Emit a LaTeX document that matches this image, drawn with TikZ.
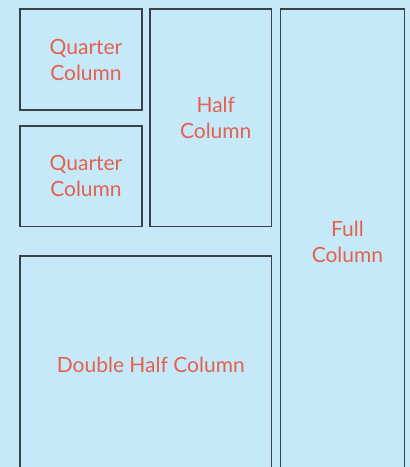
\documentclass[tikz,border=0pt]{standalone}
\usepackage{fontspec}
\setmainfont{Lato}
\definecolor{bgblue}{HTML}{C5E9F9}
\definecolor{txtred}{HTML}{E5604D}
\definecolor{edge}{HTML}{3C4147}
\begin{document}
\begin{tikzpicture}[x=1pt,y=1pt,
  box/.style={draw=edge, line width=1.3pt, inner sep=0pt, outer sep=0pt},
  lbl/.style={align=center, text=txtred, inner sep=0pt,
    font=\fontsize{21}{26}\selectfont}]
\fill[bgblue] (0,0) rectangle (410,467);
\useasboundingbox (0,0) rectangle (410,467);
\clip (0,0) rectangle (410,467);
\node[box, minimum width=122pt, minimum height=101pt] (q1) at (81,407.5) {};
\node[box, minimum width=122pt, minimum height=100.5pt] (q2) at (81,290.75) {};
\node[box, minimum width=121.5pt, minimum height=217.5pt] (half) at (210.75,349.25) {};
\node[box, minimum width=123.5pt, minimum height=465pt] (full) at (342.45,225.5) {};
\node[box, minimum width=251.5pt, minimum height=218pt] (dbl) at (145.75,102) {};
\node[lbl] (q1t) at ([xshift=5pt]q1.center) {Quarter\\Column};
\node[lbl] (q2t) at ([xshift=5pt]q2.center) {Quarter\\Column};
\node[lbl] (halft) at ([xshift=5pt]half.center) {Half\\Column};
\node[lbl] (fullt) at ([xshift=5pt]full.center) {Full\\Column};
\node[lbl] (dblt) at ([xshift=5pt]dbl.center) {Double Half Column};
\end{tikzpicture}
\end{document}
